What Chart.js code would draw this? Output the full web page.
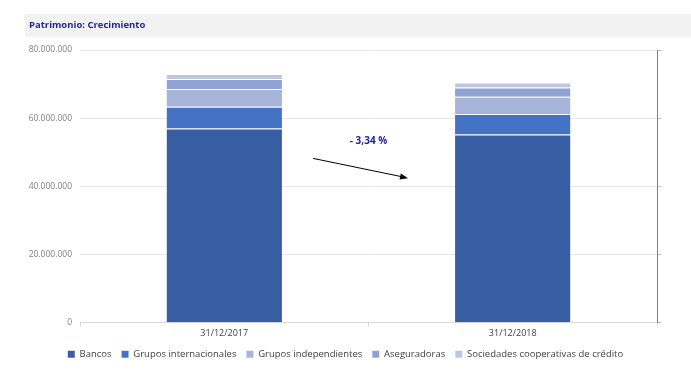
<!DOCTYPE html>
<html><head><meta charset="utf-8">
<script src="https://cdn.jsdelivr.net/npm/chart.js@4/dist/chart.umd.min.js"></script>
<style>html,body{margin:0;padding:0;background:#fff}#wrap{width:691px;height:391px}</style>
</head><body><div id="wrap"><canvas id="c"></canvas></div>
<script>
const categories = ["31/12/2017", "31/12/2018"];
const bancos = [57000000, 55200000];
const gruposInternacionales = [6350000, 6060000];
const gruposIndependientes = [5200000, 5000000];
const aseguradoras = [2940000, 2760000];
const sociedadesCooperativas = [1470000, 1470000];
const yTicks = [0, 20000000, 40000000, 60000000, 80000000];
const titleText = "Patrimonio: Crecimiento";
const changeLabel = "- 3,34 %";

const FONT = "'Open Sans', sans-serif";
const fmt = v => v === 0 ? "0" : v.toLocaleString("de-DE");

const deco = {
  id: "deco",
  beforeDraw(chart) {
    const ctx = chart.ctx;
    ctx.save();
    ctx.fillStyle = "#F2F2F2";
    ctx.fillRect(25, 14, chart.width - 25, 23);
    ctx.fillStyle = "#23239A";
    ctx.font = "bold 9.5px " + FONT;
    ctx.textBaseline = "middle";
    ctx.fillText(titleText, 29, 25.5);
    ctx.restore();
  },
  afterDatasetsDraw(chart) {
    const ctx = chart.ctx, x = chart.scales.x, y = chart.scales.y;
    const p0 = x.getPixelForValue(0), p1 = x.getPixelForValue(1), d = p1 - p0;
    const x1 = p0 + d * 0.308, y1 = y.getPixelForValue(48200000);
    const x2 = p0 + d * 0.637, y2 = y.getPixelForValue(42400000);
    ctx.save();
    ctx.strokeStyle = "#000"; ctx.fillStyle = "#000"; ctx.lineWidth = 1;
    ctx.beginPath(); ctx.moveTo(x1, y1); ctx.lineTo(x2 - 4, y2 - 1); ctx.stroke();
    const a = Math.atan2(y2 - y1, x2 - x1);
    ctx.beginPath();
    ctx.moveTo(x2, y2);
    ctx.lineTo(x2 - 8 * Math.cos(a) + 3 * Math.sin(a), y2 - 8 * Math.sin(a) - 3 * Math.cos(a));
    ctx.lineTo(x2 - 8 * Math.cos(a) - 3 * Math.sin(a), y2 - 8 * Math.sin(a) + 3 * Math.cos(a));
    ctx.closePath(); ctx.fill();
    ctx.fillStyle = "#23239A";
    ctx.font = "bold 10px " + FONT;
    ctx.textAlign = "center"; ctx.textBaseline = "middle";
    ctx.fillText(changeLabel, p0 + d * 0.50, y.getPixelForValue(53300000));
    ctx.restore();
  }
};

const mk = (label, data, color) => ({
  label, data, backgroundColor: color,
  borderColor: "rgba(255,255,255,0.2)", borderWidth: {top: 1}, borderSkipped: "bottom",
  categoryPercentage: 0.4, barPercentage: 1.0, yAxisID: "y"
});

new Chart(document.getElementById("c"), {
  type: "bar",
  data: {
    labels: categories,
    datasets: [
      mk("Bancos", bancos, "#375DA2"),
      mk("Grupos internacionales", gruposInternacionales, "#4472C4"),
      mk("Grupos independientes", gruposIndependientes, "#A7B4D9"),
      mk("Aseguradoras", aseguradoras, "#8FA2D3"),
      mk("Sociedades cooperativas de crédito", sociedadesCooperativas, "#BDC6E3")
    ]
  },
  options: {
    responsive: true, maintainAspectRatio: false, animation: false,
    layout: {padding: {top: 50, left: 0, right: 0, bottom: 22}},
    plugins: {
      title: {display: false},
      tooltip: {enabled: false},
      legend: {
        position: "bottom",
        labels: {boxWidth: 7, boxHeight: 7, padding: 10, color: "#404040", font: {family: FONT, size: 9.5}}
      }
    },
    scales: {
      x: {
        stacked: true,
        grid: {display: true, drawOnChartArea: false, drawTicks: true, tickLength: 4, color: "#D9D9D9", offset: true},
        border: {display: true, color: "#D9D9D9"},
        ticks: {color: "#404040", padding: 1, font: {family: FONT, size: 9}}
      },
      y: {
        stacked: true, min: 0, max: 80000000,
        afterBuildTicks: s => { s.ticks = yTicks.map(v => ({value: v})); },
        afterFit: s => { s.width = 80; },
        grid: {color: "#E8E8E8", drawTicks: false},
        border: {display: false},
        ticks: {color: "#7F7F7F", padding: 8, font: {family: FONT, size: 8.5}, callback: v => fmt(v)}
      },
      y2: {
        position: "right", min: 0, max: 80000000,
        afterBuildTicks: s => { s.ticks = yTicks.map(v => ({value: v})); },
        afterFit: s => { s.width = 34; },
        grid: {drawOnChartArea: false, drawTicks: true, tickLength: 4, color: "#BFBFBF"},
        border: {display: true, color: "#7F7F7F", width: 1},
        ticks: {display: false}
      }
    }
  },
  plugins: [deco]
});
</script></body></html>
